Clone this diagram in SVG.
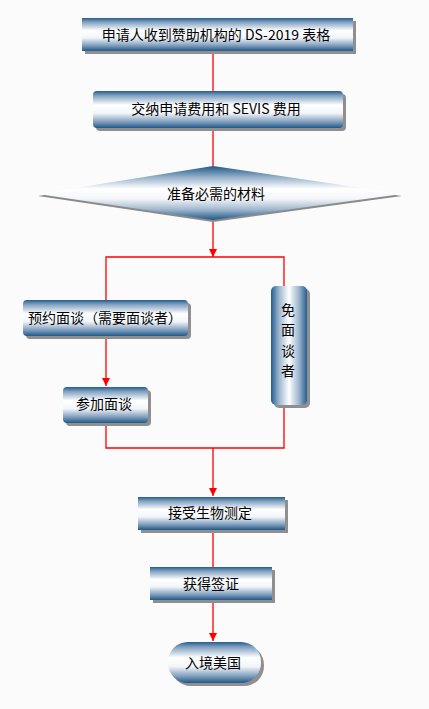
<svg xmlns="http://www.w3.org/2000/svg" width="429" height="709" viewBox="0 0 429 709">
  <defs>
    <linearGradient id="gv" x1="0" y1="0" x2="0" y2="1">
      <stop offset="0" stop-color="#245d8e"/>
      <stop offset="0.12" stop-color="#7f9fbf"/>
      <stop offset="0.38" stop-color="#ffffff"/>
      <stop offset="0.6" stop-color="#f2f5f9"/>
      <stop offset="0.85" stop-color="#7798b9"/>
      <stop offset="1" stop-color="#1f5888"/>
    </linearGradient>
    <linearGradient id="gd" x1="0" y1="0" x2="0" y2="1">
      <stop offset="0" stop-color="#1f5888"/>
      <stop offset="0.22" stop-color="#9db6ce"/>
      <stop offset="0.42" stop-color="#ffffff"/>
      <stop offset="0.6" stop-color="#f5f7fa"/>
      <stop offset="0.8" stop-color="#a3bad0"/>
      <stop offset="1" stop-color="#1f5888"/>
    </linearGradient>
    <linearGradient id="gh" x1="0" y1="0" x2="1" y2="0">
      <stop offset="0" stop-color="#245d8e"/>
      <stop offset="0.22" stop-color="#9ab4cd"/>
      <stop offset="0.5" stop-color="#ffffff"/>
      <stop offset="0.78" stop-color="#9ab4cd"/>
      <stop offset="1" stop-color="#245d8e"/>
    </linearGradient>
    <marker id="arr" markerUnits="userSpaceOnUse" markerWidth="8" markerHeight="8" refX="8" refY="4" orient="auto">
      <path d="M0,0 L8,4 L0,8 z" fill="#ff0000"/>
    </marker>
  </defs>
  <style>
    .sh { fill: #8f8f8f; }
    .bx { fill: url(#gv); }
    .t { font-family: "Noto Sans CJK SC", "Liberation Sans", sans-serif; font-size: 14px; fill: #000; text-anchor: middle; dominant-baseline: central; }
    .c { fill: none; stroke: #ff0000; stroke-width: 1.3; }
  </style>
  <rect width="429" height="709" fill="#fafbfa"/>

  <g id="connectors">
    <path class="c" d="M213,51 V91"/>
    <path class="c" d="M213,128 V166"/>
    <path class="c" d="M213,220 V257" marker-end="url(#arr)"/>
    <path class="c" d="M106,300 V257 H284 V286"/>
    <path class="c" d="M106,336 V386" marker-end="url(#arr)"/>
    <path class="c" d="M106,423 V448 H284 V405"/>
    <path class="c" d="M213,448 V496" marker-end="url(#arr)"/>
    <path class="c" d="M213,530 V567"/>
    <path class="c" d="M213,600 V641" marker-end="url(#arr)"/>
  </g>

  <g id="n1">
    <rect class="sh" x="85" y="21" width="271" height="33"/>
    <rect class="bx" x="82" y="18" width="271" height="33"/>
    <text class="t" x="216" y="34">申请人收到赞助机构的 DS-2019 表格</text>
  </g>

  <g id="n2">
    <rect class="sh" x="96" y="94" width="250" height="37" rx="4"/>
    <rect class="bx" x="93" y="91" width="250" height="37" rx="4"/>
    <text class="t" x="216" y="108">交纳申请费用和 SEVIS 费用</text>
  </g>

  <g id="n3">
    <polygon points="38,196 213,168 402,196 213,222" fill="#8a8a8a"/>
    <polygon points="38,194 213,166 402,194 213,220" fill="url(#gd)"/>
    <text class="t" x="216" y="193">准备必需的材料</text>
  </g>

  <g id="n4">
    <rect class="sh" x="26" y="303" width="165" height="36" rx="4"/>
    <rect class="bx" x="23" y="300" width="165" height="36" rx="4"/>
    <text class="t" x="105" y="317">预约面谈（需要面谈者）</text>
  </g>

  <g id="n5">
    <rect class="sh" x="274" y="289" width="36" height="119" rx="5"/>
    <rect x="271" y="286" width="36" height="119" rx="5" fill="url(#gh)"/>
    <text class="t" x="288" y="309">免</text>
    <text class="t" x="288" y="329">面</text>
    <text class="t" x="288" y="350">谈</text>
    <text class="t" x="288" y="370">者</text>
  </g>

  <g id="n6">
    <rect class="sh" x="66" y="390" width="85" height="36" rx="4"/>
    <rect class="bx" x="63" y="387" width="85" height="36" rx="4"/>
    <text class="t" x="104" y="403">参加面谈</text>
  </g>

  <g id="n7">
    <rect class="sh" x="141" y="500" width="147" height="33"/>
    <rect class="bx" x="138" y="497" width="147" height="33"/>
    <text class="t" x="210" y="512">接受生物测定</text>
  </g>

  <g id="n8">
    <rect class="sh" x="153" y="570" width="122" height="33"/>
    <rect class="bx" x="150" y="567" width="122" height="33"/>
    <text class="t" x="211" y="583">获得签证</text>
  </g>

  <g id="n9">
    <rect class="sh" x="171" y="645" width="93" height="41" rx="20"/>
    <rect class="bx" x="168" y="642" width="93" height="41" rx="20"/>
    <text class="t" x="213" y="662">入境美国</text>
  </g>
</svg>
